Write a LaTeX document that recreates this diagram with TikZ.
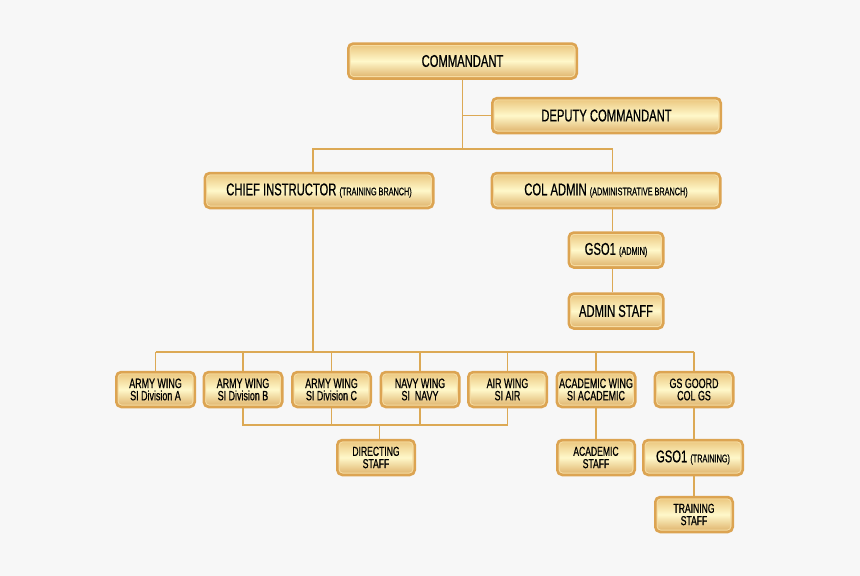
\documentclass[tikz,border=0pt]{standalone}
\usepackage{fontspec}
\setmainfont{Liberation Sans}[FakeStretch=0.66, FakeBold=0.7]
\definecolor{pagebg}{HTML}{F7F7F7}
\definecolor{goldB}{HTML}{DCA452}
\definecolor{goldT}{HTML}{EAC47A}
\definecolor{goldL}{HTML}{FFF8CA}
\definecolor{goldD}{HTML}{DDAF66}
\definecolor{goldEdge}{HTML}{F6DCA2}
\definecolor{goldLine}{HTML}{DCA955}

\begin{document}
\begin{tikzpicture}[x=1pt, y=-1pt,
    box/.style={draw=goldB, line width=2.5pt, rounded corners=5pt,
        top color=goldT, bottom color=goldD, middle color=goldL,
        path picture={\draw[goldEdge, line width=0.9pt, rounded corners=3.5pt]
            ([xshift=1.9pt, yshift=-1.9pt]path picture bounding box.north west) rectangle
            ([xshift=-1.9pt, yshift=1.9pt]path picture bounding box.south east);},
        minimum height=35pt, inner sep=1pt, align=center,
        font=\fontsize{17}{18}\selectfont},
    wide/.style={box, minimum width=228.5pt},
    wing/.style={box, minimum width=78.5pt, font=\fontsize{13.5}{12.3}\selectfont},
    staff/.style={box, minimum width=77.5pt, font=\fontsize{13}{12.3}\selectfont},
    link/.style={draw=goldLine, line width=1.2pt}]

    \fill[pagebg] (0,0) rectangle (860,576);

    % top of the chart
    \node[wide] (cmd) at (462.5, 61) {COMMANDANT};
    \node[wide] (dep) at (606.5, 115.5) {DEPUTY COMMANDANT};
    \node[wide] (ci) at (319, 190.5) {CHIEF INSTRUCTOR {\fontsize{11}{12}\selectfont (TRAINING BRANCH)}};
    \node[wide] (ca) at (606, 190.5) {COL ADMIN {\fontsize{11}{12}\selectfont (ADMINISTRATIVE BRANCH)}};
    \node[box, minimum width=94.5pt] (gso) at (616, 250) {GSO1 {\fontsize{11}{12}\selectfont (ADMIN)}};
    \node[box, minimum width=94.5pt] (adm) at (616, 311) {ADMIN STAFF};

    % wings
    \node[wing] (a1) at (155.5, 389.5) {ARMY WING\\SI Division A};
    \node[wing] (a2) at (243, 389.5) {ARMY WING\\SI Division B};
    \node[wing] (a3) at (331.5, 389.5) {ARMY WING\\SI Division C};
    \node[wing] (nv) at (420, 389.5) {NAVY WING\\SI\ \ NAVY};
    \node[wing] (air) at (507.5, 389.5) {AIR WING\\SI AIR};
    \node[wing] (acw) at (596, 389.5) {ACADEMIC WING\\SI ACADEMIC};
    \node[wing] (gs) at (694, 389.5) {GS GOORD\\COL GS};

    \node[staff] (ds) at (376, 457.5) {DIRECTING\\STAFF};
    \node[staff] (acs) at (596, 457.5) {ACADEMIC\\STAFF};
    \node[box, minimum width=99.5pt] (gst) at (693, 457.5) {GSO1 {\fontsize{11}{12}\selectfont (TRAINING)}};
    \node[staff] (trs) at (694, 514.5) {TRAINING\\STAFF};

    % connectors
    \coordinate (hub) at (462.5, 149);
    \coordinate (bus) at (313, 352);
    \coordinate (dbus) at (379.5, 425);

    \draw[link] (cmd.south) -- (hub);
    \draw[link] (cmd.south |- dep.west) -- (dep.west);
    \draw[link] ([xshift=-6pt]ci.north) |- (hub) -| ([xshift=6.5pt]ca.north);
    \draw[link] ([xshift=6.5pt]ca.south) -- ([xshift=6.5pt]ca.south |- gso.north);
    \draw[link] ([xshift=-3.5pt]gso.south) -- ([xshift=-3.5pt]adm.north);

    \draw[link] ([xshift=-6pt]ci.south) -- (bus);
    \draw[link] (a1.north |- bus) -- (gs.north |- bus);
    \foreach \w in {a1,a2,a3,nv,air,acw,gs}
        \draw[link] (\w.north |- bus) -- (\w.north);

    \draw[link] (a2.south) |- (dbus) -| (air.south);
    \draw[link] (a3.south) -- (a3.south |- dbus);
    \draw[link] (nv.south) -- (nv.south |- dbus);
    \draw[link] (dbus) -- (dbus |- ds.north);

    \draw[link] (acw.south) -- (acw.south |- acs.north);
    \draw[link] (gs.south) -- (gs.south |- gst.north);
    \draw[link] (trs.north |- gst.south) -- (trs.north);

\end{tikzpicture}
\end{document}
